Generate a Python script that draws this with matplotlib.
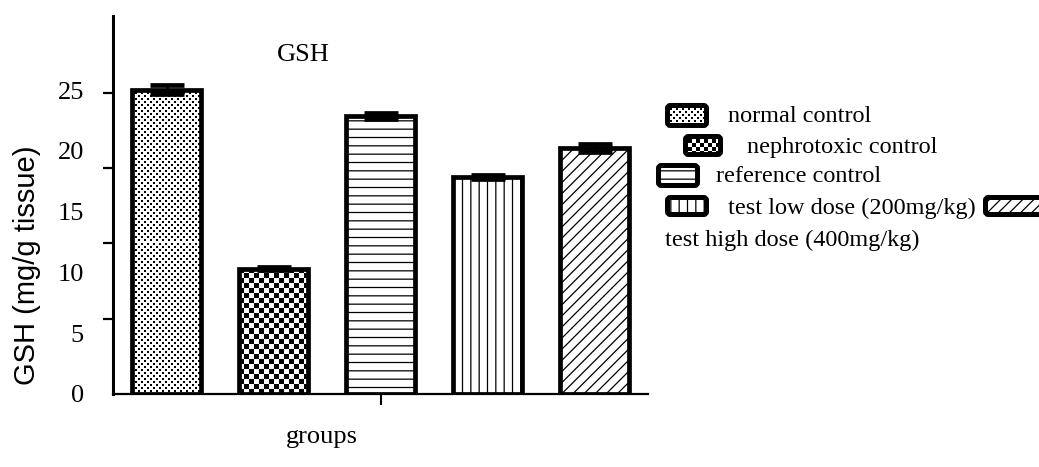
import numpy as np
import matplotlib
matplotlib.use("Agg")
import matplotlib.pyplot as plt
import matplotlib.transforms as mtransforms
from matplotlib.patches import FancyBboxPatch

# data (values read in the labelled y scale)
groups = ["normal control", "nephrotoxic control", "reference control",
          "test low dose (200mg/kg)", "test high dose (400mg/kg)"]
gsh_mean = [25.05, 10.3, 22.9, 17.85, 20.25]
gsh_sem = [0.35, 0.12, 0.25, 0.2, 0.3]
hatches = [None, None, "--", "||", "///"]
ytick_labels = ["0", "5", "10", "15", "20", "25"]

W, H = 1039, 467
plt.rcParams["hatch.linewidth"] = 0.9
SERIF = "Liberation Serif"

fig = plt.figure(figsize=(W / 100, H / 100), dpi=100)


def fx(px):
    return px / W


def fy(py):
    return 1 - py / H


def dot_pattern(nrows, ncols):
    # small staggered dots, like the fine "normal control" fill
    r = np.arange(nrows)[:, None]
    c = np.arange(ncols)[None, :]
    black = (((r // 3) + (c // 3)) % 2 == 0) & (r % 3 < 2) & (c % 3 < 2)
    return np.where(black, 0.0, 1.0)


def checker_pattern(nrows, ncols, cell):
    r = np.arange(nrows)[:, None]
    c = np.arange(ncols)[None, :]
    return (((r // cell) + (c // cell)) % 2).astype(float)


ax = fig.add_axes([fx(113), fy(394), fx(648) - fx(113), fy(16) - fy(394)])
ax.set_xlim(-0.5, 4.5)
ax.set_ylim(0, 31.1)

x = np.arange(len(groups))
bars = ax.bar(x, gsh_mean, width=0.65, facecolor="white", edgecolor="black",
              linewidth=3.4, zorder=2)
for b, h in zip(bars, hatches):
    if h:
        b.set_hatch(h)
    else:
        b.set_facecolor("none")

ax.errorbar(x, gsh_mean, yerr=gsh_sem, fmt="none", ecolor="black",
            elinewidth=2, capsize=12.5, capthick=3.4, zorder=3)


def pattern_fill(bar, kind):
    x0, y0 = bar.get_x(), bar.get_y()
    w, h = bar.get_width(), bar.get_height()
    p0 = ax.transData.transform((x0, y0))
    p1 = ax.transData.transform((x0 + w, y0 + h))
    nx = int(round(p1[0] - p0[0]))
    ny = int(round(p1[1] - p0[1]))
    arr = dot_pattern(ny, nx) if kind == "dots" else checker_pattern(ny, nx, 5)
    ax.imshow(arr, cmap="gray", vmin=0, vmax=1, extent=(x0, x0 + w, y0, y0 + h),
              interpolation="nearest", aspect="auto", zorder=1.5)


pattern_fill(bars[0], "dots")
pattern_fill(bars[1], "checker")
ax.set_xlim(-0.5, 4.5)
ax.set_ylim(0, 31.1)

# axes styling
for s in ["top", "right"]:
    ax.spines[s].set_visible(False)
ax.spines["left"].set_linewidth(2.2)
ax.spines["bottom"].set_linewidth(1.6)

ax.set_yticks([0, 5, 10, 15, 20, 25])
ax.set_yticklabels(ytick_labels, fontfamily=SERIF, fontsize=19)
ax.tick_params(axis="y", which="major", length=0, pad=21)
ax.set_yticks([0, 6.2, 12.4, 18.6, 24.8], minor=True)
ax.tick_params(axis="y", which="minor", length=7.5, width=1.6, direction="out")

ax.set_xticks([2])
ax.set_xticklabels([""])
ax.tick_params(axis="x", length=8, width=1.5, direction="out")

fig.text(fx(27), fy(265), "GSH (mg/g tissue)", rotation=90, ha="center",
         va="center", fontfamily="Liberation Sans", fontsize=21)
fig.text(fx(303), fy(55), "GSH", ha="center", va="center",
         fontfamily=SERIF, fontsize=19)
fig.text(fx(322), fy(437), "groups", ha="center", va="center",
         fontfamily=SERIF, fontsize=19)

# legend, laid out like the original export (pixel boxes, top-left origin)
handle_boxes = [(665, 103, 709, 128), (683, 134, 723, 157), (656, 163, 700, 188),
                (665, 195, 709, 217), (983, 195, 1046, 217)]
text_pos = [(728, 117), (747, 148), (716, 177), (728, 208), (665, 240)]
px = mtransforms.IdentityTransform()
lw_px = 5

for i, (bx0, by0, bx1, by1) in enumerate(handle_boxes):
    inset = lw_px / 2
    face = "black" if i < 2 else "white"
    p = FancyBboxPatch((bx0 + inset, H - by1 + inset),
                       bx1 - bx0 - 2 * inset, by1 - by0 - 2 * inset,
                       boxstyle="round,pad=0,rounding_size=3",
                       transform=px, facecolor=face, edgecolor="black",
                       linewidth=lw_px * 0.72, zorder=2)
    if hatches[i]:
        p.set_hatch(hatches[i])
    fig.add_artist(p)
    if i < 2:
        iw, ih = bx1 - bx0 - 2 * lw_px, by1 - by0 - 2 * lw_px
        arr = dot_pattern(ih, iw) if i == 0 else checker_pattern(ih, iw, 4)
        fig.figimage(arr, xo=bx0 + lw_px, yo=H - by1 + lw_px, cmap="gray",
                     vmin=0, vmax=1, origin="upper", zorder=5)
    tx, ty = text_pos[i]
    fig.text(fx(tx), fy(ty), groups[i], ha="left", va="center",
             fontfamily=SERIF, fontsize=17.5)

fig.savefig("out.png", dpi=100)
